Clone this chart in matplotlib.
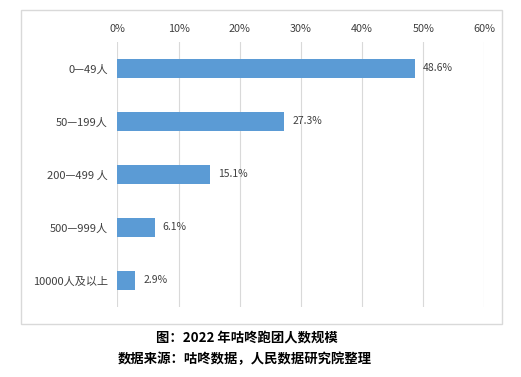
import matplotlib
matplotlib.use('Agg')
import matplotlib.pyplot as plt
from matplotlib.patches import Rectangle

plt.rcParams['font.family'] = ['Noto Sans CJK SC', 'DejaVu Sans']

# 数据
categories = ['0—49人', '50—199人', '200—499 人', '500—999人', '10000人及以上']
values = [48.6, 27.3, 15.1, 6.1, 2.9]
ticks = [0, 10, 20, 30, 40, 50, 60]
tick_labels = ['0%', '10%', '20%', '30%', '40%', '50%', '60%']

fig = plt.figure(figsize=(5.21, 3.77), dpi=100)
ax = fig.add_axes([0.2255, 0.1857, 0.7044, 0.7029])

y = list(range(len(categories)))
ax.barh(y, values, height=0.34, color='#5B9BD5', zorder=3)
for yi, v in zip(y, values):
    ax.text(v + 1.3, yi, f'{v:.1f}%', va='center', ha='left', fontsize=7.5, color='#404040')

ax.set_xlim(0, 60)
ax.set_ylim(len(categories) - 0.5, -0.5)
ax.set_xticks(ticks)
ax.set_xticklabels(tick_labels)
ax.xaxis.tick_top()
ax.set_yticks(y)
ax.set_yticklabels(categories)
ax.tick_params(axis='both', length=0, labelcolor='#404040')
ax.tick_params(axis='x', pad=6, labelsize=7.8)
ax.tick_params(axis='y', pad=7, labelsize=8)
ax.grid(axis='x', color='#D9D9D9', linewidth=0.8, zorder=0)
for s in ax.spines.values():
    s.set_visible(False)

# 图表外框
fig.patches.append(Rectangle((21 / 521, 1 - 324 / 377), 481 / 521, 314 / 377,
                             transform=fig.transFigure, fill=False,
                             edgecolor='#D9D9D9', linewidth=1))

fig.text(247 / 521, 1 - 338 / 377, '图：2022 年咕咚跑团人数规模', ha='center', va='center',
         fontsize=9.6, fontweight='bold', color='black')
fig.text(245 / 521, 1 - 359 / 377, '数据来源：咕咚数据，人民数据研究院整理', ha='center', va='center',
         fontsize=9.6, fontweight='bold', color='black')

fig.savefig('out.png', dpi=100)
